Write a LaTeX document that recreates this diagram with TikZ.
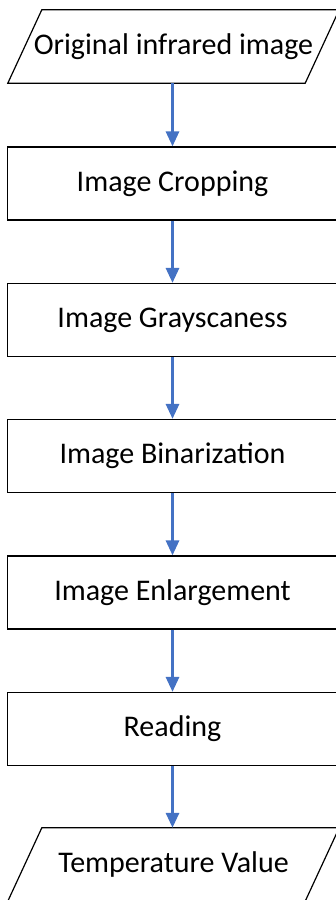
\documentclass[tikz,border=0pt]{standalone}
\usepackage{fontspec}
\setmainfont{Carlito}
\usetikzlibrary{arrows.meta}
\definecolor{arrowblue}{RGB}{68,114,196}
\begin{document}
\begin{tikzpicture}[x=1pt,y=-1pt,
        boxnode/.style={rectangle, draw=black, line width=1.2pt, minimum width=330pt, minimum height=73pt, inner sep=0pt, font=\fontsize{30}{36}\selectfont},
        ionode/.style={rectangle, minimum width=297pt, minimum height=73pt, inner sep=0pt, font=\fontsize{30}{36}\selectfont},
        flow/.style={-{Triangle[width=13pt,length=15pt]}, arrowblue, line width=3pt},
        ]
                \useasboundingbox (0,0) rectangle (335,900);
                \node[ionode]  at(173.5,46.5) (1) {Original infrared image};
                \node[boxnode] at(172.5,183.5)  (2) {Image Cropping};
                \node[boxnode] at(172.5,320)    (3) {Image Grayscaness};
                \node[boxnode] at(172.5,456)    (4) {Image Binarization};
                \node[boxnode] at(172.5,592.5)  (5) {Image Enlargement};
                \node[boxnode] at(172.5,729)    (6) {Reading};
                \node[ionode]  at(173.5,864.5) (7) {Temperature Value};

                % slanted outline of input/output nodes
                \foreach \n in {1,7}
                    \draw[black, line width=1.2pt, line join=miter]
                        ([xshift=17pt]\n.north west) -- ([xshift=17pt]\n.north east)
                        -- ([xshift=-17pt]\n.south east) -- ([xshift=-17pt]\n.south west) -- cycle;

                \draw[flow] (1.south -| 2.north) -- (2.north) ;
                \draw[flow] (2) -- (3) ;
                \draw[flow] (3) -- (4) ;
                \draw[flow] (4) -- (5) ;
                \draw[flow] (5) -- (6) ;
                \draw[flow] (6.south) -- (7.north -| 6.south) ;

            \end{tikzpicture}
\end{document}
